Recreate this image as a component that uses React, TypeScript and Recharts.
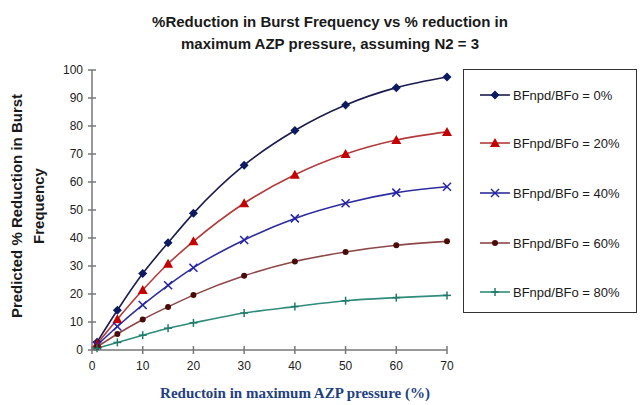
import { Line, LineChart, XAxis, YAxis } from "recharts";

const xValues = [1, 5, 10, 15, 20, 30, 40, 50, 60, 70];
const bf0 = [2.8, 14.2, 27.3, 38.3, 48.8, 66.0, 78.4, 87.5, 93.7, 97.5];
const bf20 = [2.2, 11.0, 21.4, 30.8, 38.8, 52.4, 62.6, 70.0, 75.0, 77.9];
const bf40 = [1.7, 8.4, 16.1, 23.1, 29.4, 39.3, 47.0, 52.4, 56.2, 58.3];
const bf60 = [1.1, 5.7, 10.9, 15.4, 19.6, 26.5, 31.6, 35.0, 37.4, 38.8];
const bf80 = [0.6, 2.7, 5.3, 7.8, 9.7, 13.2, 15.5, 17.6, 18.7, 19.5];
const xTicks = [0, 10, 20, 30, 40, 50, 60, 70];
const yTicks = [0, 10, 20, 30, 40, 50, 60, 70, 80, 90, 100];

const seriesNames = [
  "BFnpd/BFo = 0%",
  "BFnpd/BFo = 20%",
  "BFnpd/BFo = 40%",
  "BFnpd/BFo = 60%",
  "BFnpd/BFo = 80%",
];

const data = xValues.map((x, i) => ({
  x,
  s0: bf0[i],
  s20: bf20[i],
  s40: bf40[i],
  s60: bf60[i],
  s80: bf80[i],
}));

type Shape = "diamond" | "triangle" | "cross" | "circle" | "plus";

const series: { key: string; name: string; line: string; mark: string; shape: Shape }[] = [
  { key: "s0", name: seriesNames[0], line: "#1b1b4d", mark: "#0c1a60", shape: "diamond" },
  { key: "s20", name: seriesNames[1], line: "#b23a3a", mark: "#c40000", shape: "triangle" },
  { key: "s40", name: seriesNames[2], line: "#2d2d9c", mark: "#2323a8", shape: "cross" },
  { key: "s60", name: seriesNames[3], line: "#8c4848", mark: "#4a0b0b", shape: "circle" },
  { key: "s80", name: seriesNames[4], line: "#2f8c7c", mark: "#1f7a6a", shape: "plus" },
];

function Marker({ cx, cy, shape, color }: { cx: number; cy: number; shape: Shape; color: string }) {
  if (cx == null || cy == null) return null;
  switch (shape) {
    case "diamond":
      return <polygon points={`${cx},${cy - 4.5} ${cx + 4.5},${cy} ${cx},${cy + 4.5} ${cx - 4.5},${cy}`} fill={color} />;
    case "triangle":
      return <polygon points={`${cx},${cy - 5} ${cx + 5},${cy + 4} ${cx - 5},${cy + 4}`} fill={color} />;
    case "cross":
      return (
        <g stroke={color} strokeWidth={1.5}>
          <line x1={cx - 4} y1={cy - 4} x2={cx + 4} y2={cy + 4} />
          <line x1={cx - 4} y1={cy + 4} x2={cx + 4} y2={cy - 4} />
        </g>
      );
    case "circle":
      return <circle cx={cx} cy={cy} r={3} fill={color} />;
    default:
      return (
        <g stroke={color} strokeWidth={1.5}>
          <line x1={cx - 4} y1={cy} x2={cx + 4} y2={cy} />
          <line x1={cx} y1={cy - 4} x2={cx} y2={cy + 4} />
        </g>
      );
  }
}

const tickFont = { fontFamily: "Liberation Sans, Arial, sans-serif", fontSize: 12, fill: "#222" };

function YTick({ x, y, payload }: any) {
  const ax = x + 8;
  return (
    <g>
      <line x1={ax - 4} x2={ax + 4} y1={y} y2={y} stroke="#777" strokeWidth={1.5} />
      <text x={x - 1} y={y} dy={4} textAnchor="end" {...tickFont}>
        {payload.value}
      </text>
    </g>
  );
}

function XTick({ x, y, payload }: any) {
  const ay = y - 8;
  return (
    <g>
      <line x1={x} x2={x} y1={ay - 4} y2={ay + 4} stroke="#777" strokeWidth={1.5} />
      <text x={x} y={y} dy={12} textAnchor="middle" {...tickFont}>
        {payload.value}
      </text>
    </g>
  );
}

const legendTop = [95, 143, 193, 243, 292];

export default function App() {
  return (
    <div style={{ position: "absolute", left: 0, top: 0, width: 641, height: 405, background: "#fff", fontFamily: "Liberation Sans, Arial, sans-serif" }}>
      <div
        style={{
          position: "absolute",
          left: 60,
          top: 11,
          width: 540,
          textAlign: "center",
          fontWeight: 700,
          fontSize: 15,
          lineHeight: "22px",
          color: "#1a1a1a",
        }}
      >
        %Reduction in Burst Frequency vs % reduction in
        <br />
        maximum AZP pressure, assuming N2 = 3
      </div>
      <div
        style={{
          position: "absolute",
          left: 28 - 140,
          top: 206 - 22,
          width: 280,
          height: 44,
          transform: "rotate(-90deg)",
          textAlign: "center",
          fontWeight: 700,
          fontSize: 15,
          lineHeight: "22px",
          color: "#1a1a1a",
        }}
      >
        Predicted % Reduction in Burst
        <br />
        Frequency
      </div>
      <div
        style={{
          position: "absolute",
          left: 95,
          top: 385,
          width: 400,
          textAlign: "center",
          fontFamily: "Liberation Serif, 'Times New Roman', serif",
          fontWeight: 700,
          fontSize: 15,
          color: "#1f3f7f",
        }}
      >
        Reductoin in maximum AZP pressure (%)
      </div>
      <LineChart
        width={641}
        height={405}
        data={data}
        margin={{ top: 70, right: 194, bottom: 25, left: 0 }}
        style={{ position: "absolute", left: 0, top: 0 }}
      >
        <XAxis
          dataKey="x"
          type="number"
          domain={[0, 70]}
          ticks={xTicks}
          height={30}
          tickSize={0}
          tickMargin={8}
          tick={<XTick />}
          axisLine={{ stroke: "#777", strokeWidth: 1.5 }}
          interval={0}
        />
        <YAxis
          type="number"
          domain={[0, 100]}
          ticks={yTicks}
          width={92}
          tickSize={0}
          tickMargin={8}
          tick={<YTick />}
          axisLine={{ stroke: "#777", strokeWidth: 1.5 }}
          interval={0}
        />
        {series.map((s) => (
          <Line
            key={s.key}
            dataKey={s.key}
            name={s.name}
            type="monotone"
            stroke={s.line}
            strokeWidth={1.6}
            isAnimationActive={false}
            dot={(p: any) => <Marker key={`${s.key}-${p.index}`} cx={p.cx} cy={p.cy} shape={s.shape} color={s.mark} />}
            activeDot={false}
          />
        ))}
      </LineChart>
      <div
        style={{
          position: "absolute",
          left: 463,
          top: 69,
          width: 172,
          height: 242,
          border: "1.5px solid #333",
          background: "#fff",
        }}
      />
      {series.map((s, i) => (
        <div
          key={s.key}
          style={{ position: "absolute", left: 478, top: legendTop[i] - 9, height: 18, display: "flex", alignItems: "center" }}
        >
          <svg width={34} height={18}>
            <line x1={2} x2={32} y1={9} y2={9} stroke={s.line} strokeWidth={1.6} />
            <Marker cx={17} cy={9} shape={s.shape} color={s.mark} />
          </svg>
          <span style={{ fontSize: 13, color: "#1a1a1a", marginLeft: 1 }}>{s.name}</span>
        </div>
      ))}
    </div>
  );
}
